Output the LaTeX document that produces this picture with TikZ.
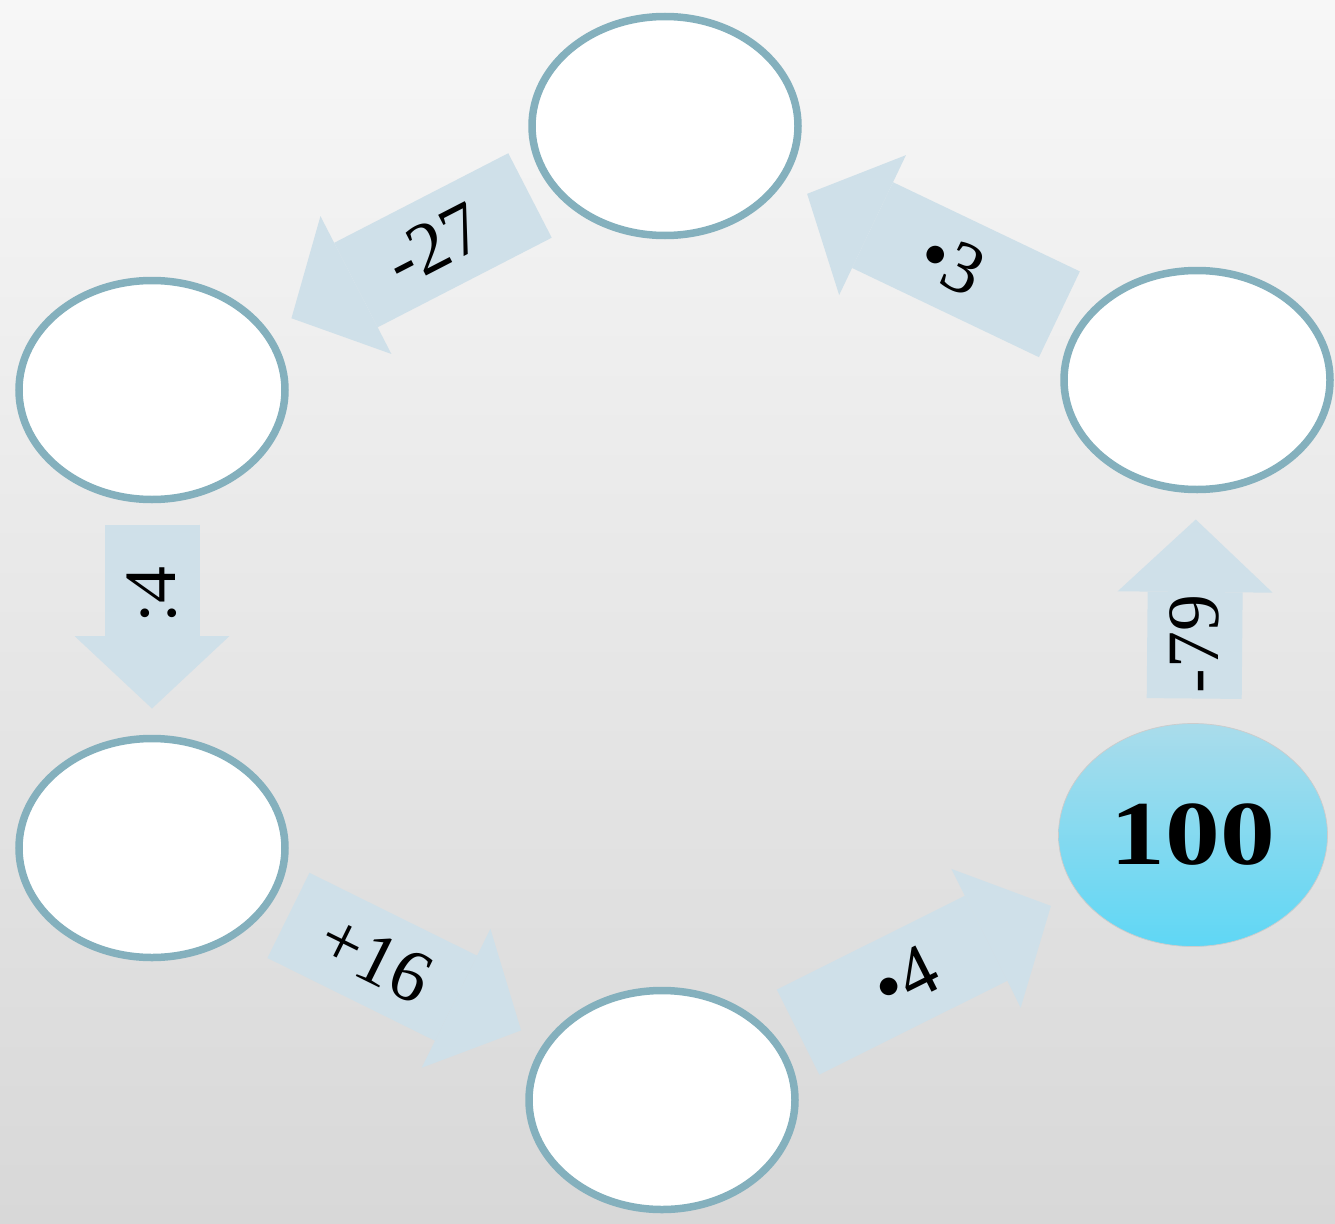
\documentclass[tikz,border=0pt]{standalone}
\usepackage{fontspec}
\setmainfont{Liberation Serif}
\usetikzlibrary{shapes.geometric,arrows.meta}
\definecolor{ringcol}{RGB}{132,176,189}
\definecolor{arrowcol}{RGB}{207,224,233}
\definecolor{bgtop}{RGB}{247,247,247}
\definecolor{bgbot}{RGB}{216,216,216}
\definecolor{startop}{RGB}{170,220,235}
\definecolor{startbot}{RGB}{95,215,245}

\tikzset{
  blank/.style={ellipse, draw=ringcol, line width=0.15cm, fill=white,
    minimum width=5.32cm, minimum height=4.38cm, inner sep=0pt, outer sep=0pt},
  start/.style={ellipse, draw=gray!40, thin, top color=startop, bottom color=startbot,
    minimum width=5.38cm, minimum height=4.46cm, inner sep=0pt, outer sep=0pt,
    font=\fontsize{52}{58}\selectfont\bfseries},
  flow/.style={arrowcol, line width=1.9cm, shorten <=0.5cm, shorten >=0.6cm,
    -{Triangle[length=1.45cm, width=3.1cm, line width=0pt]}},
  oplabel/.style={font=\fontsize{42}{46}\selectfont, text=black, inner sep=0pt}
}

\begin{document}
\begin{tikzpicture}
  \shade [top color=bgtop, bottom color=bgbot] (0,0) rectangle (26.7,-24.48);% paper
  \useasboundingbox (0,0) rectangle (26.7,-24.48);
% the six places of the chain
  \node [blank] (top) at (13.3,-2.52) {};
  \node [blank] (upleft) at (3.04,-7.8) {};
  \node [blank] (upright) at (23.94,-7.6) {};
  \node [blank] (lowleft) at (3.04,-16.96) {};
  \node [blank] (bottom) at (13.24,-22.0) {};
  \node [start] (hundred) at (23.86,-16.7) {\scalebox{1.2}[1]{100}};
% steps, going round from 100
  \draw [flow] (hundred) -- (upright) node [oplabel, pos=0.34, rotate=90] {-79};
  \draw [flow] (upright) -- (top) node [oplabel, pos=0.43, rotate=-25.6] {•3};
  \draw [flow] (top) -- (upleft) node [oplabel, pos=0.41, rotate=27.3] {-27};
  \draw [flow] (upleft) -- (lowleft) node [oplabel, pos=0.40, rotate=90] {:4};
  \draw [flow] (lowleft) -- (bottom) node [oplabel, pos=0.39, rotate=-26.3] {+16};
  \draw [flow] (bottom) -- (hundred) node [oplabel, pos=0.43, rotate=26.6] {•4};
\end{tikzpicture}
\end{document}
